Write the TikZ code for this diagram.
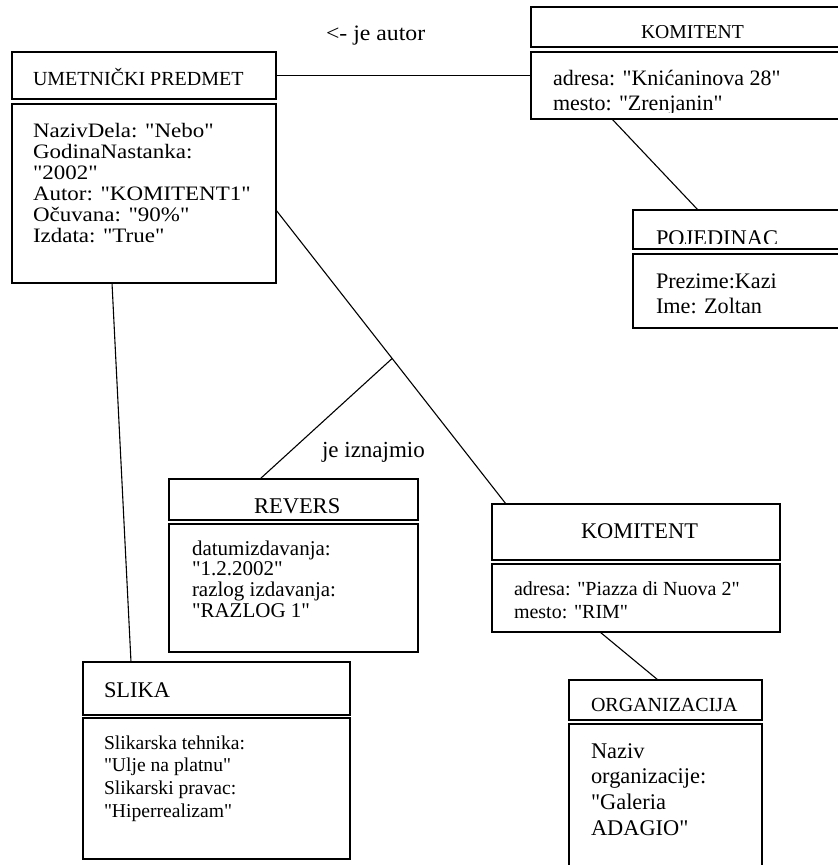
\documentclass[tikz,border=0pt]{standalone}
\usepackage{fontspec}
\setmainfont{Liberation Serif}[Ligatures=TeXOff]
\usetikzlibrary{calc}

% multi-line text block whose reference point is the baseline of its first line
\newcommand\txtlines[1]{\begin{tabular}[t]{@{}l@{}}#1\end{tabular}}

\tikzset{
  box/.style={draw, rectangle, line width=1.5pt, anchor=north west,
              inner sep=0pt, outer sep=0pt},
  link/.style={line width=1.1pt},
  txt/.style={anchor=base west, inner sep=0pt, outer sep=0pt},
}

\begin{document}
\begin{tikzpicture}[x=1pt,y=-1pt]
\useasboundingbox (0,0) rectangle (838,865);
\fill[white] (0,0) rectangle (838,865);
\clip (0,0) rectangle (838,865);

% ---- object boxes (header + attribute part) ----
\node[box, minimum width=264pt, minimum height=47pt]  (umh) at (12,52)  {};
\node[box, minimum width=264pt, minimum height=179pt] (umb) at (12,104) {};

\node[box, minimum width=320pt, minimum height=40pt]  (k1h) at (531,7)  {};
\node[box, minimum width=320pt, minimum height=67pt]  (k1b) at (531,52) {};

\node[box, minimum width=220pt, minimum height=39pt]  (poh) at (633,210) {};
\node[box, minimum width=220pt, minimum height=74pt]  (pob) at (633,254) {};

\node[box, minimum width=249pt, minimum height=41pt]  (rvh) at (169,479) {};
\node[box, minimum width=249pt, minimum height=128pt] (rvb) at (169,524) {};

\node[box, minimum width=288pt, minimum height=56pt]  (k2h) at (492,504) {};
\node[box, minimum width=288pt, minimum height=68pt]  (k2b) at (492,564) {};

\node[box, minimum width=193pt, minimum height=40pt]  (orh) at (569,680) {};
\node[box, minimum width=193pt, minimum height=180pt] (orb) at (569,724) {};

\node[box, minimum width=267pt, minimum height=53pt]  (slh) at (83,662) {};
\node[box, minimum width=267pt, minimum height=141pt] (slb) at (83,718) {};

% ---- connectors ----
\draw[link] (umh.east) -- (umh.east -| k1b.west);
\coordinate (ua) at ([yshift=-16.5pt]umb.east);
\coordinate (kb) at ([xshift=14pt]k2h.north west);
\coordinate (jn) at ($(ua)!0.505!(kb)$);
\draw[link] (ua) -- (kb);
\draw[link] (jn) -- ([xshift=91pt]rvh.north west);
\draw[link] ([xshift=100pt]umb.south west) -- ([xshift=48pt]slh.north west);
\draw[link] ([xshift=81pt]k1b.south west) -- ([xshift=65pt]poh.north west);
\draw[link] ([xshift=108pt]k2b.south west) -- ([xshift=89pt]orh.north west);

% ---- labels ----
\node[txt, font=\fontsize{22}{25}\selectfont, xscale=1.08] (lab1) at (326,40) {<- je autor};
\node[txt, font=\fontsize{23}{26}\selectfont] (lab2) at (322,457) {je iznajmio};

% ---- box texts ----
\node[txt, font=\fontsize{20}{23}\selectfont] (tumh) at (33,85) {UMETNIČKI PREDMET};
\node[txt, font=\fontsize{20.5}{21}\selectfont, xscale=1.12] (tumb) at (33,137)
  {\txtlines{NazivDela: "Nebo"\\GodinaNastanka:\\"2002"\\Autor: "KOMITENT1"\\Očuvana: "90\%"\\Izdata: "True"}};

\node[txt, font=\fontsize{19.7}{23}\selectfont] (tk1h) at (641,38) {KOMITENT};
\begin{scope}
  \clip (531,52) rectangle (850,112);
  \node[txt, font=\fontsize{22}{25}\selectfont] (tk1b) at (553,85)
    {\txtlines{adresa: "Knićaninova 28"\\mesto: "Zrenjanin"}};
\end{scope}

\begin{scope}
  \clip (633,210) rectangle (850,243);
  \node[txt, font=\fontsize{22.4}{25}\selectfont] (tpoh) at (656,245) {POJEDINAC};
\end{scope}
\node[txt, font=\fontsize{22.2}{25}\selectfont] (tpob) at (656,288)
  {\txtlines{Prezime:Kazi\\Ime: Zoltan}};

\node[txt, font=\fontsize{22.5}{25}\selectfont] (trvh) at (254,513) {REVERS};
\node[txt, font=\fontsize{21}{20.7}\selectfont] (trvb) at (192,555)
  {\txtlines{datumizdavanja:\\"1.2.2002"\\razlog izdavanja:\\"RAZLOG 1"}};

\node[txt, font=\fontsize{22.4}{25}\selectfont] (tk2h) at (581,538) {KOMITENT};
\node[txt, font=\fontsize{20}{23}\selectfont] (tk2b) at (514,595)
  {\txtlines{adresa: "Piazza di Nuova 2"\\mesto: "RIM"}};

\node[txt, font=\fontsize{20}{23}\selectfont] (torh) at (591,711) {ORGANIZACIJA};
\node[txt, font=\fontsize{22.4}{25.7}\selectfont] (torb) at (591,758)
  {\txtlines{Naziv\\organizacije:\\"Galeria\\ADAGIO"}};

\node[txt, font=\fontsize{22.4}{25}\selectfont] (tslh) at (104,697) {SLIKA};
\node[txt, font=\fontsize{19.6}{22.7}\selectfont] (tslb) at (104,749)
  {\txtlines{Slikarska tehnika:\\"Ulje na platnu"\\Slikarski pravac:\\"Hiperrealizam"}};
\end{tikzpicture}
\end{document}
